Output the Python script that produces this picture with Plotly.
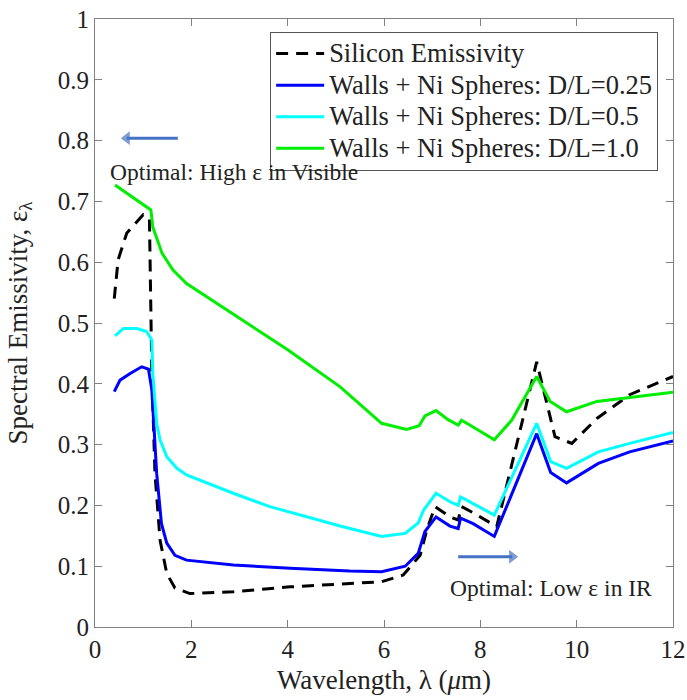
import plotly.graph_objects as go

# Silicon emissivity (dashed black)
si_x = [0.40, 0.48, 0.66, 1.00, 1.13, 1.18, 1.245, 1.35, 1.49, 1.66, 1.97, 2.87, 4.05, 5.09, 5.95, 6.40, 6.75, 6.89, 7.06, 7.37, 7.54, 7.61, 7.85, 8.34, 9.17, 9.55, 9.90, 10.42, 11.10, 12.00]
si_y = [0.540, 0.604, 0.648, 0.678, 0.672, 0.417, 0.253, 0.143, 0.088, 0.064, 0.055, 0.058, 0.066, 0.071, 0.0745, 0.0855, 0.118, 0.160, 0.198, 0.181, 0.176, 0.198, 0.188, 0.165, 0.436, 0.313, 0.302, 0.343, 0.382, 0.412]

# Walls + Ni Spheres: D/L=0.25
b_x = [0.40, 0.52, 0.73, 0.97, 1.11, 1.18, 1.28, 1.38, 1.49, 1.66, 1.90, 2.87, 4.05, 5.29, 5.95, 6.44, 6.71, 6.85, 7.08, 7.37, 7.54, 7.59, 7.85, 8.29, 9.17, 9.46, 9.79, 10.45, 11.10, 12.00]
b_y = [0.387, 0.406, 0.417, 0.428, 0.424, 0.390, 0.253, 0.170, 0.138, 0.118, 0.110, 0.102, 0.0965, 0.092, 0.091, 0.100, 0.121, 0.157, 0.181, 0.166, 0.162, 0.179, 0.170, 0.149, 0.318, 0.254, 0.237, 0.269, 0.288, 0.306]

# Walls + Ni Spheres: D/L=0.5
c_x = [0.415, 0.59, 0.87, 1.07, 1.18, 1.20, 1.28, 1.35, 1.49, 1.70, 1.90, 2.87, 3.63, 5.09, 5.95, 6.44, 6.71, 6.82, 7.08, 7.37, 7.54, 7.59, 7.85, 8.29, 9.17, 9.46, 9.79, 10.45, 11.10, 12.00]
c_y = [0.479, 0.491, 0.491, 0.486, 0.472, 0.417, 0.335, 0.308, 0.280, 0.261, 0.250, 0.220, 0.198, 0.166, 0.149, 0.154, 0.171, 0.192, 0.220, 0.206, 0.200, 0.214, 0.203, 0.184, 0.335, 0.272, 0.261, 0.288, 0.302, 0.320]

# Walls + Ni Spheres: D/L=1.0
g_x = [0.415, 1.16, 1.20, 1.39, 1.62, 1.90, 4.00, 5.09, 5.95, 6.47, 6.73, 6.85, 7.08, 7.33, 7.54, 7.61, 7.85, 8.29, 8.65, 9.17, 9.45, 9.79, 10.42, 11.10, 12.00]
g_y = [0.727, 0.686, 0.658, 0.615, 0.587, 0.565, 0.456, 0.395, 0.335, 0.325, 0.331, 0.347, 0.356, 0.341, 0.332, 0.340, 0.329, 0.308, 0.340, 0.412, 0.371, 0.354, 0.371, 0.378, 0.386]

names = ["Silicon Emissivity",
         "Walls + Ni Spheres: D/L=0.25",
         "Walls + Ni Spheres: D/L=0.5",
         "Walls + Ni Spheres: D/L=1.0"]

# Annotation arrows (tail -> head) and labels
arrow_vis_x = [1.72, 0.66]
arrow_vis_y = [0.804, 0.804]
arrow_ir_x = [7.54, 8.66]
arrow_ir_y = [0.1156, 0.1156]
label_vis = "Optimal: High ε in Visible"
label_ir = "Optimal: Low ε in IR"

x_ticks = [0, 2, 4, 6, 8, 10, 12]
y_ticks = [0, 0.1, 0.2, 0.3, 0.4, 0.5, 0.6, 0.7, 0.8, 0.9, 1]

FONT = "Liberation Serif, Times New Roman, serif"
TXT = "#222222"
ARROW = "#4472c4"


def big(s):
    return '<span style="font-size:26.5px">' + s + '</span>'


fig = go.Figure()
fig.add_trace(go.Scatter(x=si_x, y=si_y, mode="lines", name=big(names[0]),
                         line=dict(color="black", width=3, dash="12px,8px")))
fig.add_trace(go.Scatter(x=b_x, y=b_y, mode="lines", name=big(names[1]),
                         line=dict(color="#0000ff", width=3)))
fig.add_trace(go.Scatter(x=c_x, y=c_y, mode="lines", name=big(names[2]),
                         line=dict(color="#00ffff", width=3)))
fig.add_trace(go.Scatter(x=g_x, y=g_y, mode="lines", name=big(names[3]),
                         line=dict(color="#00ee00", width=3)))

for ax_, ay_, head in [(arrow_vis_x, arrow_vis_y, "triangle-left"),
                       (arrow_ir_x, arrow_ir_y, "triangle-right")]:
    fig.add_trace(go.Scatter(x=ax_, y=ay_, mode="lines+markers", showlegend=False,
                             hoverinfo="skip",
                             line=dict(color=ARROW, width=3),
                             marker=dict(symbol=["circle", head], size=[0, 12],
                                         color=ARROW, line=dict(width=0))))

axis_common = dict(showline=True, linecolor="#808080", linewidth=1, mirror="ticks",
                   ticks="inside", ticklen=7, tickcolor="#808080",
                   showgrid=False, zeroline=False, automargin=False,
                   tickfont=dict(family=FONT, size=25, color=TXT))

fig.update_xaxes(range=[0, 12], tickvals=x_ticks,
                 title=dict(text="Wavelength, λ (<i>μ</i>m)", font=dict(family=FONT, size=27, color=TXT), standoff=8),
                 **axis_common)
fig.update_yaxes(range=[0, 1], tickvals=y_ticks,
                 title=dict(text="Spectral Emissivity, ε<sub>λ</sub>", font=dict(family=FONT, size=27, color=TXT), standoff=22),
                 **axis_common)

fig.add_annotation(x=0.27, y=0.748, xref="x", yref="y", text=label_vis,
                   showarrow=False, xanchor="left", yanchor="middle",
                   font=dict(family=FONT, size=23.5, color=TXT))
fig.add_annotation(x=7.33, y=0.064, xref="x", yref="y", text=label_ir,
                   showarrow=False, xanchor="left", yanchor="middle",
                   font=dict(family=FONT, size=23.5, color=TXT))

fig.update_layout(
    width=687, height=700,
    margin=dict(l=95, r=14, t=19, b=73),
    paper_bgcolor="white", plot_bgcolor="white",
    showlegend=True,
    legend=dict(x=0.303, y=0.979, xanchor="left", yanchor="top",
                bgcolor="white", bordercolor="#555", borderwidth=1,
                font=dict(family=FONT, size=22, color=TXT),
                tracegroupgap=0, itemwidth=48),
)

fig.write_html("out.html", config={"displayModeBar": False},
               post_script="document.body.style.margin='0';")
